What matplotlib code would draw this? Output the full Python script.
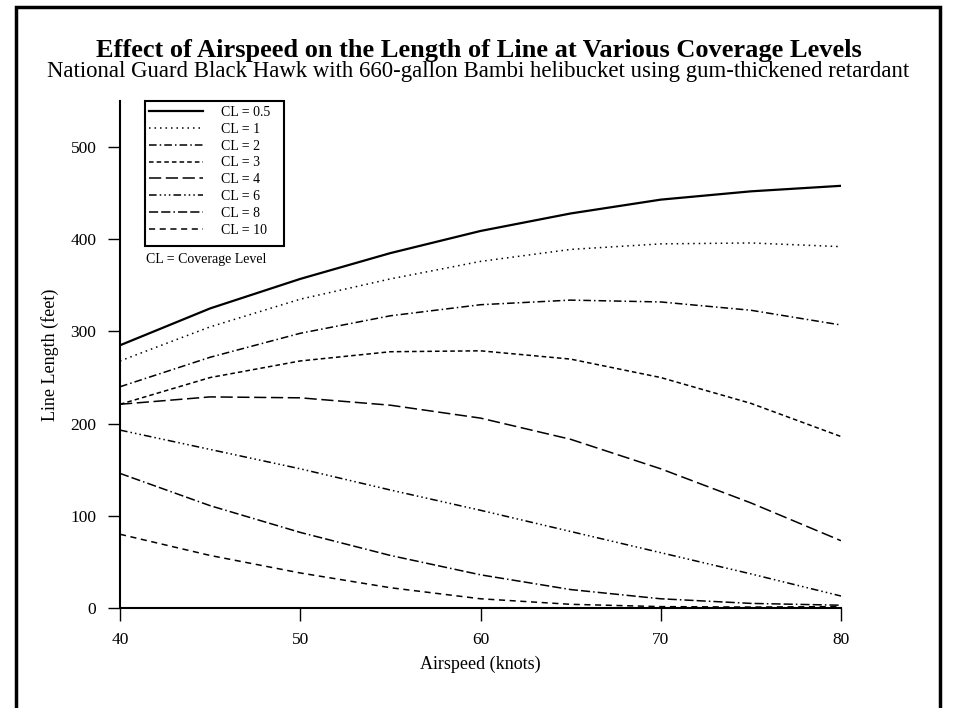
import matplotlib
matplotlib.use('Agg')
import matplotlib.pyplot as plt
from matplotlib.patches import Rectangle

plt.rcParams['font.family'] = ['Liberation Serif', 'DejaVu Serif']

# airspeed (knots)
airspeed = [40, 45, 50, 55, 60, 65, 70, 75, 80]

# line length (feet) per coverage level
cl_05 = [285, 325, 357, 385, 409, 428, 443, 452, 458]
cl_1 = [268, 305, 335, 357, 376, 389, 395, 396, 392]
cl_2 = [240, 272, 298, 317, 329, 334, 332, 323, 307]
cl_3 = [221, 250, 268, 278, 279, 270, 250, 222, 186]
cl_4 = [221, 229, 228, 220, 206, 183, 151, 114, 73]
cl_6 = [193, 172, 151, 128, 106, 83, 60, 37, 13]
cl_8 = [146, 111, 82, 57, 36, 20, 10, 5, 3]
cl_10 = [80, 57, 38, 22, 10, 4, 1.5, 1, 1.5]

labels = ['CL = 0.5', 'CL = 1', 'CL = 2', 'CL = 3', 'CL = 4', 'CL = 6', 'CL = 8', 'CL = 10']
series = [cl_05, cl_1, cl_2, cl_3, cl_4, cl_6, cl_8, cl_10]
styles = ['-', (0, (1, 2.6)), (0, (5, 2, 1, 2)), (0, (3, 2)), (0, (8, 3)),
          (0, (5, 2, 1, 2, 1, 2, 1, 2)), (0, (6, 2, 6, 2, 1, 2)), (0, (4, 3))]
widths = [1.6, 1.1, 1.1, 1.1, 1.1, 1.1, 1.1, 1.1]

W, H = 957, 708
fig = plt.figure(figsize=(W / 100, H / 100), dpi=100)
ax = fig.add_axes([120 / W, 1 - 608 / H, (841 - 120) / W, 507 / H])

for ys, lab, ls, lw in zip(series, labels, styles, widths):
    ax.plot(airspeed, ys, color='black', linestyle=ls, linewidth=lw, label=lab)

ax.set_xlim(40, 80)
ax.set_ylim(0, 550)
ax.set_xticks([40, 50, 60, 70, 80])
ax.set_yticks([0, 100, 200, 300, 400, 500])
for s in ('top', 'right'):
    ax.spines[s].set_visible(False)
for s in ('left', 'bottom'):
    ax.spines[s].set_linewidth(1.5)
ax.tick_params(direction='out', length=9, width=1, labelsize=12.5, pad=8)
ax.set_xlabel('Airspeed (knots)', fontsize=13, labelpad=6)
ax.set_ylabel('Line Length (feet)', fontsize=13, labelpad=8)

# legend entries without frame; box drawn separately
leg = ax.legend(loc='upper left', bbox_to_anchor=(146 / W, 1 - 103 / H),
                bbox_transform=fig.transFigure, fontsize=10, frameon=False,
                borderaxespad=0, borderpad=0.2,
                labelspacing=0.28, handlelength=3.9, handletextpad=1.3)
fig.patches.append(Rectangle((145 / W, 1 - 246 / H), 139 / W, 145 / H,
                             transform=fig.transFigure, fill=False,
                             edgecolor='black', linewidth=1.5))
fig.text(146 / W, 1 - 259 / H, 'CL = Coverage Level', fontsize=10, va='center')

fig.text(0.5, 1 - 57 / H, 'Effect of Airspeed on the Length of Line at Various Coverage Levels',
         ha='center', va='baseline', fontsize=19, fontweight='bold')
fig.text(0.5, 1 - 77 / H,
         'National Guard Black Hawk with 660-gallon Bambi helibucket using gum-thickened retardant',
         ha='center', va='baseline', fontsize=16.4)

fig.patches.append(Rectangle((16 / W, -0.02), (940 - 16) / W, 1.02 - 7 / H,
                             transform=fig.transFigure, fill=False,
                             edgecolor='black', linewidth=2.5))

fig.savefig('out.png', dpi=100)
